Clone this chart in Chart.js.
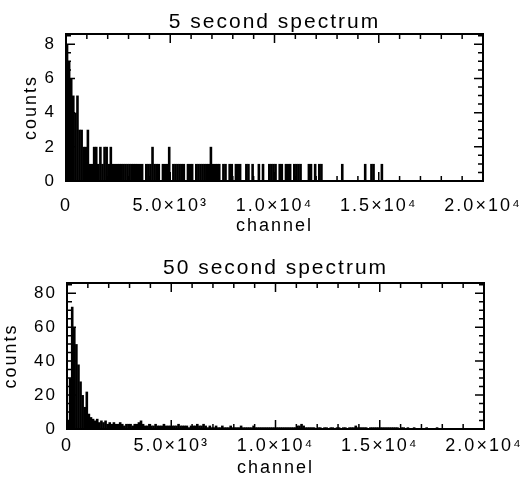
<!DOCTYPE html>
<html>
<head>
<meta charset="utf-8">
<script src="https://cdn.jsdelivr.net/npm/chart.js@4/dist/chart.umd.min.js"></script>
<style>
  body { margin: 0; background: #fff; }
  .panel { position: absolute; left: 0; }
</style>
</head>
<body>
<div class="panel" style="top:0px"><canvas id="spec5" width="527" height="240"></canvas></div>
<div class="panel" style="top:240px"><canvas id="spec50" width="527" height="241"></canvas></div>
<script>
// channels are binned, 100 channels per bin, 200 bins from 0 to 20000
const BIN = 100;

// 5 second spectrum, counts per bin
const counts5 = [
  8,7,6,5,4,5,3,3,2,2, 3,1,1,2,2,1,2,1,2,2,
  1,2,1,1,1,1,1,1,1,1, 1,1,1,1,1,1,1,0,1,1,
  1,2,1,1,1,0,1,1,1,2, 0,1,1,1,1,1,1,0,1,1,
  1,0,1,1,1,1,1,1,1,2, 1,1,1,1,0,1,1,0,1,1,
  0,1,1,1,0,0,1,1,0,1, 0,0,1,0,1,0,0,1,1,1,
  1,0,1,1,0,1,1,1,0,1, 1,1,1,0,0,0,1,1,0,1,
  0,1,1,0,0,0,0,0,0,0, 0,0,1,0,0,0,0,0,0,0,
  0,0,0,1,0,0,1,1,0,0, 0,1,0,0,0,0,0,0,0,0,
  0,0,0,0,0,0,0,0,0,0, 0,0,0,0,0,0,0,0,0,0,
  0,0,0,0,0,0,0,0,0,0, 0,0,0,0,0,0,0,0,0,0
];

// 50 second spectrum, counts per bin
const counts50 = [
  5,30,72,60,50,38,28,20,13,22, 9,7,6,5,6,4,5,4,5,3,
  4,3,4,3,3,4,3,2,3,3, 3,2,3,3,4,5,3,2,2,3,
  2,2,3,2,2,2,3,2,2,2, 2,2,2,3,2,2,2,2,1,2,
  2,2,3,2,2,3,2,1,2,1, 1,2,1,1,2,1,1,1,2,1,
  1,1,1,2,1,1,1,1,1,2, 1,1,1,1,1,1,1,1,1,1,
  1,1,1,1,1,1,1,1,1,1, 2,2,3,2,1,1,1,1,1,0,
  1,1,0,1,1,0,1,1,0,1, 1,0,1,1,0,1,1,1,2,1,
  1,1,1,1,0,1,1,1,1,1, 1,1,1,1,1,1,1,1,1,0,
  1,1,0,1,0,0,1,0,0,0, 0,0,1,0,0,0,0,1,0,0,
  0,0,0,0,0,0,0,0,0,0, 0,0,0,0,0,0,0,0,0,0
];

const xTicks = [0, 5000, 10000, 15000, 20000];

Chart.defaults.font.family = '"Liberation Sans", Arial, Helvetica, sans-serif';
Chart.defaults.color = '#000';

const SUP = '⁰¹²³⁴⁵⁶⁷⁸⁹';
function sciLabel(v) {
  if (v === 0) return '0';
  const e = Math.floor(Math.log10(v));
  return (v / Math.pow(10, e)).toFixed(1) + '×10' + SUP[e];
}

// IDL-like wide text
const spacing = {
  id: 'spacing',
  beforeUpdate(chart) { chart.ctx.letterSpacing = '2px'; },
  beforeDraw(chart) { chart.ctx.letterSpacing = '2px'; }
};

// closed box with inward ticks on all four sides
const boxTicks = {
  id: 'boxTicks',
  afterDatasetsDraw(chart, args, opts) {
    const {ctx, chartArea: a, scales: {x, y}} = chart;
    ctx.save();
    ctx.strokeStyle = '#000';
    ctx.lineWidth = 2;
    ctx.strokeRect(a.left, a.top, a.right - a.left, a.bottom - a.top);
    ctx.lineWidth = 1.5;
    ctx.beginPath();
    for (let v = x.min; v <= x.max + 1e-6; v += opts.xMinor) {
      const px = x.getPixelForValue(v);
      const len = Math.abs(v % opts.xMajor) < 1e-6 ? 9 : 5;
      ctx.moveTo(px, a.bottom); ctx.lineTo(px, a.bottom - len);
      ctx.moveTo(px, a.top); ctx.lineTo(px, a.top + len);
    }
    for (let v = y.min; v <= y.max + 1e-6; v += opts.yMinor) {
      const py = y.getPixelForValue(v);
      const r = v % opts.yMajor;
      const len = (Math.abs(r) < 1e-6 || Math.abs(r - opts.yMajor) < 1e-6) ? 9 : 5;
      ctx.moveTo(a.left, py); ctx.lineTo(a.left + len, py);
      ctx.moveTo(a.right, py); ctx.lineTo(a.right - len, py);
    }
    ctx.stroke();
    ctx.restore();
  }
};

function makeSpectrum(id, counts, cfg) {
  const data = counts.map((c, i) => ({x: i * BIN + BIN / 2, y: c}));
  return new Chart(document.getElementById(id), {
    type: 'bar',
    data: {
      datasets: [{
        data: data,
        backgroundColor: '#000',
        borderWidth: 0,
        barPercentage: 1.25,
        categoryPercentage: 1
      }]
    },
    plugins: [spacing, boxTicks],
    options: {
      responsive: false,
      animation: false,
      events: [],
      layout: {padding: {left: 0, right: cfg.right, top: 0, bottom: 0}},
      plugins: {
        legend: {display: false},
        tooltip: {enabled: false},
        title: {
          display: true,
          text: cfg.title,
          fullSize: false,
          font: {size: 21, weight: 'normal', lineHeight: 1},
          padding: cfg.titlePad
        },
        boxTicks: {xMinor: 1000, xMajor: 5000, yMinor: cfg.yMinor, yMajor: cfg.yStep}
      },
      scales: {
        x: {
          type: 'linear',
          min: 0,
          max: 20000,
          offset: false,
          // tick marks come from boxTicks; tickLength only pushes the labels down
          grid: {display: false, drawTicks: true, tickLength: cfg.xTickGap},
          border: {display: false},
          afterBuildTicks: s => { s.ticks = xTicks.map(v => ({value: v})); },
          ticks: {
            callback: sciLabel,
            maxRotation: 0,
            autoSkip: false,
            padding: 0,
            font: {size: 18}
          },
          title: {display: true, text: 'channel', font: {size: 18}, padding: {top: 0, bottom: cfg.xTitlePad}},
          afterFit: s => { s.height = cfg.xHeight; }
        },
        y: {
          min: 0,
          max: cfg.yMax,
          grid: {display: false, drawTicks: false},
          border: {display: false},
          ticks: {stepSize: cfg.yStep, includeBounds: false, padding: 10, font: {size: 17}},
          title: {display: true, text: 'counts', font: {size: 18}, padding: {top: cfg.yTitlePad, bottom: 0}},
          afterFit: s => { s.width = cfg.yWidth; }
        }
      }
    }
  });
}

makeSpectrum('spec5', counts5, {
  title: '5 second spectrum', right: 44, titlePad: {top: 12, bottom: 1},
  yMax: 8.6, yStep: 2, yMinor: 0.5, yWidth: 66, yTitlePad: 20,
  xHeight: 59, xTickGap: 14, xTitlePad: 3
});

makeSpectrum('spec50', counts50, {
  title: '50 second spectrum', right: 43, titlePad: {top: 18, bottom: 4},
  yMax: 86, yStep: 20, yMinor: 5, yWidth: 67, yTitlePad: 0,
  xHeight: 52, xTickGap: 6, xTitlePad: 2
});
</script>
</body>
</html>
